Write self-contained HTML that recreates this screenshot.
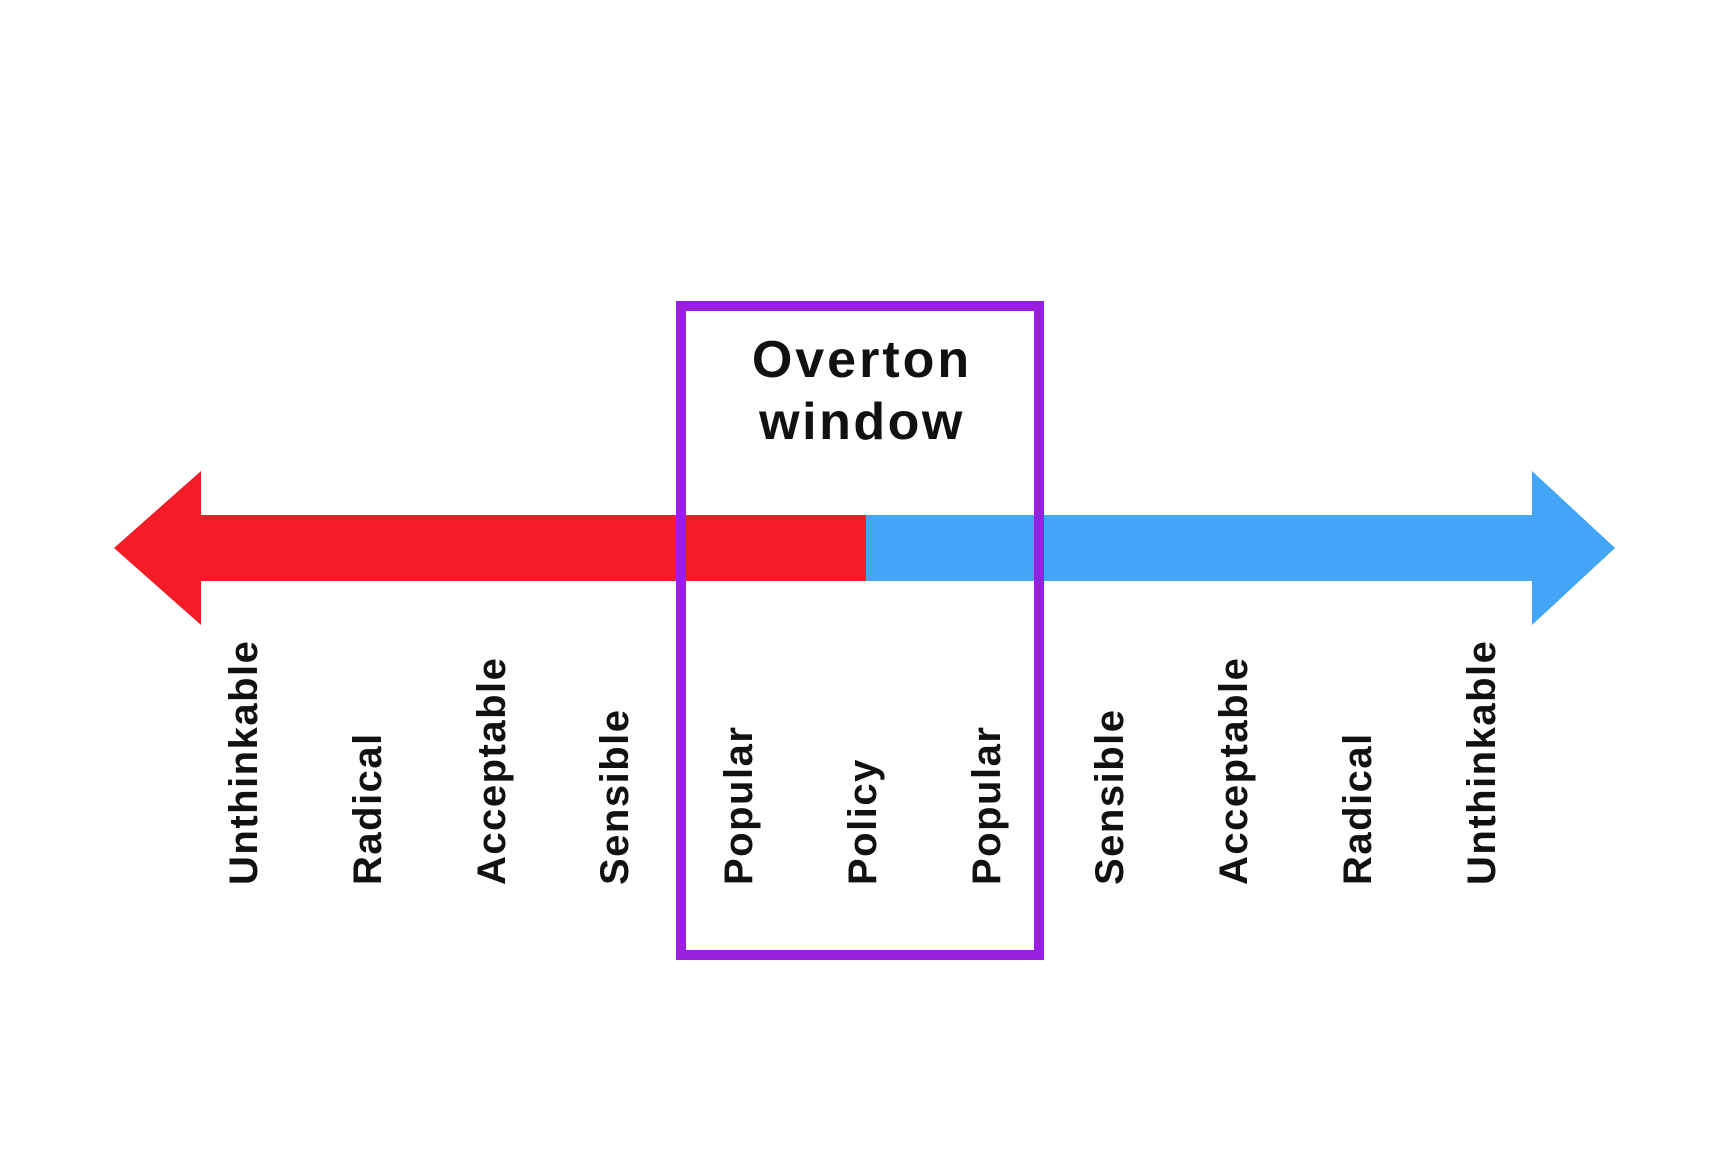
<!DOCTYPE html>
<html><head><meta charset="utf-8"><style>
html,body{margin:0;padding:0;background:#fff;}
svg{display:block;}
text{font-family:"Liberation Sans",sans-serif;font-weight:bold;fill:#111;}
</style></head><body>
<svg width="1716" height="1174" viewBox="0 0 1716 1174" xmlns="http://www.w3.org/2000/svg">
<rect width="1716" height="1174" fill="#fff"/>
<polygon points="114,548 201,471 201,515 866,515 866,581 201,581 201,625" fill="#f41c26"/>
<polygon points="1615,548 1532,471 1532,515 866,515 866,581 1532,581 1532,625" fill="#42a5f5"/>
<rect x="681" y="306" width="358" height="649" fill="none" stroke="#9b1fe0" stroke-width="10"/>
<text x="862" y="377" font-size="52" text-anchor="middle" letter-spacing="3">Overton</text>
<text x="862" y="439" font-size="52" text-anchor="middle" letter-spacing="2.5">window</text>
<g font-size="40" letter-spacing="1.5">
<text transform="translate(257,885) rotate(-90)">Unthinkable</text>
<text transform="translate(381,885) rotate(-90)">Radical</text>
<text transform="translate(505,885) rotate(-90)">Acceptable</text>
<text transform="translate(628,885) rotate(-90)">Sensible</text>
<text transform="translate(752,885) rotate(-90)">Popular</text>
<text transform="translate(876,885) rotate(-90)">Policy</text>
<text transform="translate(1000,885) rotate(-90)">Popular</text>
<text transform="translate(1123,885) rotate(-90)">Sensible</text>
<text transform="translate(1247,885) rotate(-90)">Acceptable</text>
<text transform="translate(1371,885) rotate(-90)">Radical</text>
<text transform="translate(1495,885) rotate(-90)">Unthinkable</text>
</g>
</svg>
</body></html>
